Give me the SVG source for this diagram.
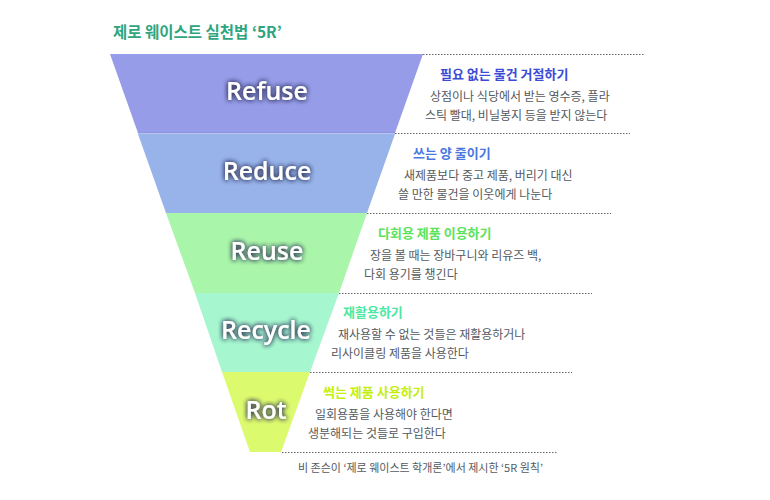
<svg xmlns="http://www.w3.org/2000/svg" width="770" height="500" viewBox="0 0 770 500">
<defs>
<filter id="glow" x="-30%" y="-50%" width="160%" height="200%">
<feGaussianBlur in="SourceAlpha" stdDeviation="2.4" result="b"/>
<feFlood flood-color="#2a2f55" flood-opacity="0.9"/>
<feComposite in2="b" operator="in" result="s"/>
<feMerge><feMergeNode in="s"/><feMergeNode in="s"/><feMergeNode in="SourceGraphic"/></feMerge>
</filter>
</defs>
<style>
.lbl{font-family:"Open Sans","Noto Sans",sans-serif;font-size:25px;font-weight:600;fill:#ffffff;text-anchor:middle;filter:url(#glow)}
.hd{font-family:"Noto Sans CJK KR",sans-serif;font-size:13px;font-weight:bold}
.ds{font-family:"Noto Sans CJK KR",sans-serif;font-size:12px;fill:#555a5e}
.dot{stroke:#666;stroke-width:1;stroke-dasharray:1.5 1.5;fill:none}
</style>
<rect width="770" height="500" fill="#ffffff"/>
<text x="113" y="38" font-family="'Noto Sans CJK KR',sans-serif" font-size="15.5" font-weight="bold" fill="#2fa57d">제로 웨이스트 실천법 ‘5R’</text>
<g id="connectors">
<line class="dot" x1="423" y1="54.5" x2="645" y2="54.5"/>
<line class="dot" x1="395" y1="133.5" x2="630" y2="133.5"/>
<line class="dot" x1="367" y1="213.5" x2="611" y2="213.5"/>
<line class="dot" x1="339" y1="293.5" x2="592" y2="293.5"/>
<line class="dot" x1="310" y1="372.5" x2="572" y2="372.5"/>
<line class="dot" x1="282" y1="452.5" x2="557" y2="452.5"/>
</g>
<g id="refuse">
<polygon points="110,54 423,54 395,133 138,133" fill="#969ce7"/>
<line x1="138" y1="133" x2="395" y2="133" stroke="#7f88dd" stroke-width="1"/>
<text class="lbl" x="267" y="100">Refuse</text>
<text class="hd" x="440" y="79" fill="#3b4bd8">필요 없는 물건 거절하기</text>
<text class="ds" x="430" y="101">상점이나 식당에서 받는 영수증, 플라</text>
<text class="ds" x="425" y="120">스틱 빨대, 비닐봉지 등을 받지 않는다</text>
</g>
<g id="reduce">
<polygon points="138,134 395,134 367,213 166,213" fill="#97b3e9"/>
<text class="lbl" x="267" y="180">Reduce</text>
<text class="hd" x="413" y="158" fill="#4a78e2">쓰는 양 줄이기</text>
<text class="ds" x="404" y="180">새제품보다 중고 제품, 버리기 대신</text>
<text class="ds" x="398" y="199">쓸 만한 물건을 이웃에게 나눈다</text>
</g>
<g id="reuse">
<polygon points="166,213 367,213 339,293 195,293" fill="#a9f5a9"/>
<text class="lbl" x="267" y="260">Reuse</text>
<text class="hd" x="378" y="238" fill="#5ce35c">다회용 제품 이용하기</text>
<text class="ds" x="370" y="260">장을 볼 때는 장바구니와 리유즈 백,</text>
<text class="ds" x="364" y="279">다회 용기를 챙긴다</text>
</g>
<g id="recycle">
<polygon points="195,293 339,293 310,372 222,372" fill="#a6f6cf"/>
<text class="lbl" x="266" y="339">Recycle</text>
<text class="hd" x="343" y="317" fill="#4ee89f">재활용하기</text>
<text class="ds" x="338" y="339">재사용할 수 없는 것들은 재활용하거나</text>
<text class="ds" x="331" y="358">리사이클링 제품을 사용한다</text>
</g>
<g id="rot">
<polygon points="222,372 310,372 281,452 250,452" fill="#dcfa6e"/>
<text class="lbl" x="266" y="419">Rot</text>
<text class="hd" x="323" y="397" fill="#c5ef0a">썩는 제품 사용하기</text>
<text class="ds" x="315" y="419">일회용품을 사용해야 한다면</text>
<text class="ds" x="308" y="438">생분해되는 것들로 구입한다</text>
</g>
<text x="298" y="472" font-family="'Noto Sans CJK KR',sans-serif" font-size="11" fill="#555a5e">비 존슨이 ‘제로 웨이스트 학개론’에서 제시한 ‘5R 원칙’</text>
</svg>
